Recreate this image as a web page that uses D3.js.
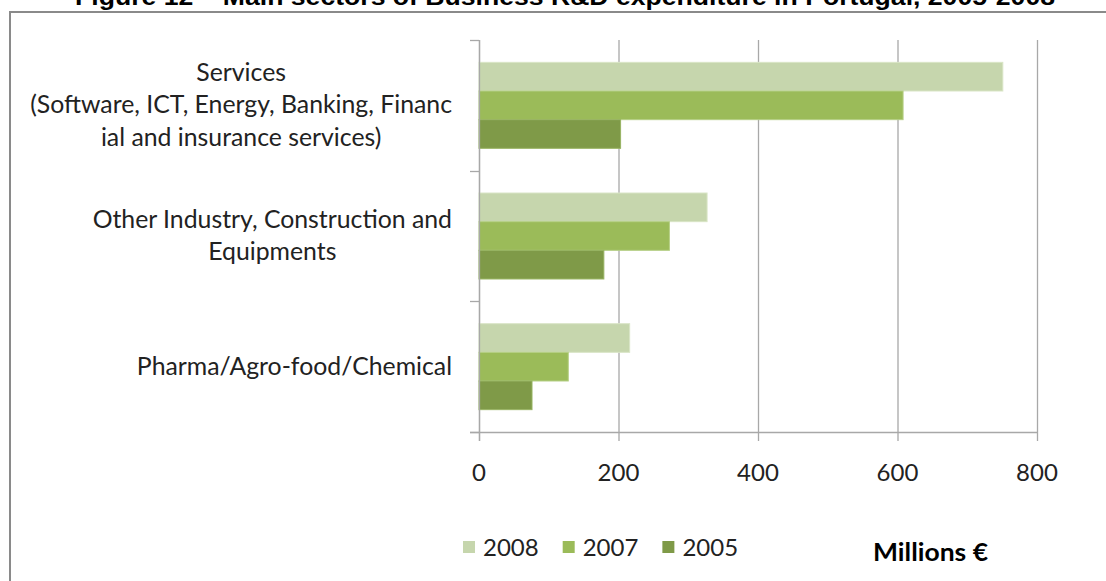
<!DOCTYPE html>
<html>
<head>
<meta charset="utf-8">
<script src="https://cdn.jsdelivr.net/npm/d3@7"></script>
<style>
  html, body { margin: 0; padding: 0; background: #fff; }
  svg { display: block; }
</style>
</head>
<body>
<svg id="chart" width="1106" height="581"></svg>
<script>
// Business R&D expenditure by main sector (millions of euros)
const categories = ["Services", "Other Industry", "Pharma"];
const categoryLines = [
  ["Services", "(Software, ICT, Energy, Banking, Financ", "ial and insurance services)"],
  ["Other Industry, Construction and", "Equipments"],
  ["Pharma/Agro-food/Chemical"]
];
const series = ["2008", "2007", "2005"];
const values2008 = [751, 327, 216];
const values2007 = [608, 273, 128];
const values2005 = [203, 179, 76];
const xTicks = [0, 200, 400, 600, 800];
const titleText = "Figure 12 \u2013 Main sectors of Business R&D expenditure in Portugal, 2005-2008";
const unitLabel = "Millions \u20AC";

const seriesValues = { "2008": values2008, "2007": values2007, "2005": values2005 };
const colors = { "2008": "#c6d6ad", "2007": "#9bbb59", "2005": "#7f9a48" };
const edges = { "2008": "#d9e5c6", "2007": "#b5cf85", "2005": "#98b463" };

const svg = d3.select("#chart");
const labelFont = "Lato, 'Noto Sans', sans-serif";
const gridColor = "#a8a8a8";

const plot = { left: 479, right: 1037, top: 40, bottom: 432 };

const x = d3.scaleLinear().domain([0, 800]).range([plot.left, plot.right]);
const y = d3.scaleBand().domain(categories).range([plot.top, plot.bottom]).padding(0);
const ySub = d3.scaleBand().domain(series).range([0, y.bandwidth()])
  .paddingInner(0).paddingOuter(0.78);

// Outer frame (continues past the right and bottom edges)
svg.append("path")
  .attr("d", "M10,600 V12 H1120")
  .attr("fill", "none")
  .attr("stroke", "#8a8a8a")
  .attr("stroke-width", 2);

// Title, running off the top edge
svg.append("text")
  .attr("x", 565)
  .attr("y", 5)
  .attr("text-anchor", "middle")
  .attr("font-family", "'Liberation Sans', Arial, sans-serif")
  .attr("font-weight", "bold")
  .attr("font-size", 24)
  .attr("textLength", 980)
  .attr("lengthAdjust", "spacingAndGlyphs")
  .attr("fill", "#000")
  .text(titleText);

// Vertical gridlines, extending below the axis as tick marks
svg.append("g").selectAll("line")
  .data(xTicks)
  .join("line")
  .attr("x1", d => x(d) + 0.5).attr("x2", d => x(d) + 0.5)
  .attr("y1", plot.top).attr("y2", plot.bottom + 9)
  .attr("stroke", gridColor)
  .attr("stroke-width", 1.3);

// Bars
const rows = [];
categories.forEach((c, i) => series.forEach(s => rows.push({ cat: c, s, v: seriesValues[s][i] })));
svg.append("g").selectAll("rect")
  .data(rows)
  .join("rect")
  .attr("x", x(0))
  .attr("y", d => y(d.cat) + ySub(d.s))
  .attr("width", d => x(d.v) - x(0))
  .attr("height", ySub.bandwidth())
  .attr("fill", d => colors[d.s])
  .attr("stroke", d => edges[d.s])
  .attr("stroke-width", 1);

// Category axis line and tick marks at band boundaries
svg.append("line")
  .attr("x1", x(0) + 0.5).attr("x2", x(0) + 0.5)
  .attr("y1", plot.top).attr("y2", plot.bottom + 9)
  .attr("stroke", gridColor).attr("stroke-width", 1.3);
const boundaries = categories.map(c => y(c)).concat([plot.bottom]);
svg.append("g").selectAll("line")
  .data(boundaries)
  .join("line")
  .attr("x1", x(0) - 9).attr("x2", x(0))
  .attr("y1", d => Math.round(d) + 0.5).attr("y2", d => Math.round(d) + 0.5)
  .attr("stroke", gridColor).attr("stroke-width", 1.3);

// Value axis line
svg.append("line")
  .attr("x1", x(0) - 9).attr("x2", plot.right + 1)
  .attr("y1", plot.bottom + 0.5).attr("y2", plot.bottom + 0.5)
  .attr("stroke", gridColor).attr("stroke-width", 1.3);

// Value tick labels
svg.append("g").selectAll("text")
  .data(xTicks)
  .join("text")
  .attr("x", d => x(d))
  .attr("y", plot.bottom + 49)
  .attr("text-anchor", "middle")
  .attr("font-family", labelFont)
  .attr("font-size", 24)
  .attr("fill", "#222")
  .text(d => d3.format("d")(d));

// Category labels: lines centred on the widest line, block right-aligned
const labelRight = x(0) - 27;
const lineStep = 32.5;
categories.forEach((c, i) => {
  const lines = categoryLines[i];
  const g = svg.append("g");
  const cy = y(c) + y.bandwidth() / 2;
  const texts = g.selectAll("text")
    .data(lines)
    .join("text")
    .attr("y", (d, k) => cy + (k - (lines.length - 1) / 2) * lineStep + 8)
    .attr("text-anchor", "middle")
    .attr("font-family", labelFont)
    .attr("font-size", 24.8)
    .attr("fill", "#222")
    .text(d => d);
  let maxW = 0;
  texts.each(function () { maxW = Math.max(maxW, this.getComputedTextLength()); });
  texts.attr("x", labelRight - maxW / 2);
});

// Legend
let lx = 463;
const legendY = 541;
series.forEach(s => {
  svg.append("rect")
    .attr("x", lx).attr("y", legendY)
    .attr("width", 12).attr("height", 12)
    .attr("fill", colors[s]);
  const t = svg.append("text")
    .attr("x", lx + 20).attr("y", legendY + 15)
    .attr("font-family", labelFont)
    .attr("font-size", 24)
    .attr("fill", "#222")
    .text(s);
  lx = lx + 20 + t.node().getComputedTextLength() + 24;
});

// Unit label
svg.append("text")
  .attr("x", 873).attr("y", 561)
  .attr("font-family", labelFont)
  .attr("font-weight", "bold")
  .attr("font-size", 24)
  .attr("textLength", 115)
  .attr("lengthAdjust", "spacingAndGlyphs")
  .attr("fill", "#000")
  .text(unitLabel);
</script>
</body>
</html>
